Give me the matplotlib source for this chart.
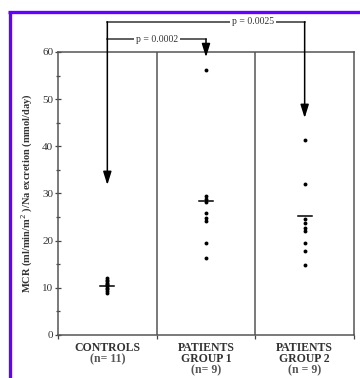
import numpy as np
import matplotlib
matplotlib.use("Agg")
import matplotlib.pyplot as plt
from matplotlib.lines import Line2D

# ==== Data ====
groups = ["CONTROLS\n(n= 11)", "PATIENTS\nGROUP 1\n(n= 9)", "PATIENTS\nGROUP 2\n(n = 9)"]
controls = [9.0, 9.4, 9.8, 10.0, 10.3, 10.5, 10.8, 11.1, 11.4, 11.7, 12.0]
group1 = [56.2, 29.5, 28.8, 28.2, 25.8, 24.9, 24.2, 19.4, 16.4]
group2 = [41.3, 32.0, 24.5, 23.8, 22.6, 22.1, 19.4, 17.7, 14.8]
means = [10.4, 28.5, 25.3]
p_labels = ["p = 0.0002", "p = 0.0025"]

plt.rcParams['font.family'] = ['Liberation Serif', 'DejaVu Serif']

fig = plt.figure(figsize=(3.6, 3.78), dpi=100)
ax = fig.add_axes([0.1611, 0.1138, 0.8222, 0.7487])

# ==== Points and means ====
for i, vals in enumerate([controls, group1, group2]):
    ax.plot([i] * len(vals), vals, 'o', color='k', markersize=2.8, markeredgewidth=0)
    ax.plot([i - 0.07, i + 0.07], [means[i], means[i]], color='k', lw=1.1)

# panel dividers
for xd in [0.5, 1.5]:
    ax.axvline(xd, color='#555555', lw=1.1)

ax.set_xlim(-0.5, 2.5)
ax.set_ylim(0, 60)
ax.set_yticks(np.arange(0, 61, 10))
ax.set_yticks(np.arange(5, 60, 10), minor=True)
ax.tick_params(axis='y', which='major', direction='inout', length=5, width=0.9,
               labelsize=8, colors='#444444', labelcolor='#333333', pad=1)
ax.tick_params(axis='y', which='minor', direction='inout', length=3, width=0.9, colors='#444444')
ax.set_xticks([0, 1, 2])
ax.set_xticklabels([])
ax.set_xticks([-0.5, 0.5, 1.5, 2.5], minor=True)
ax.tick_params(axis='x', which='major', length=0)
ax.tick_params(axis='x', which='minor', direction='out', length=3, width=0.9, colors='#444444')
for s in ax.spines.values():
    s.set_color('#555555')
    s.set_linewidth(1.1)

# group labels: names bold, counts lighter
for i, lab in enumerate(groups):
    lines = lab.split("\n")
    for k, ln in enumerate(lines):
        bold = not ln.startswith("(")
        ax.text(i, -1.4 - k * 2.45, ln, ha='center', va='top', fontsize=8.5,
                fontweight='bold', color='#333333' if bold else '#555555')

ax.set_ylabel("MCR (ml/min/m$^2$ )/Na excretion (mmol/day)", fontsize=7.5,
              fontweight='bold', color='#333333', labelpad=5)

# ==== Significance brackets ====
y_low, y_high = 62.75, 66.4
arrow = dict(arrowstyle='-|>,head_length=0.8,head_width=0.25', color='k', lw=1.1,
             shrinkA=0, shrinkB=0)
ax.plot([0, 2], [y_high, y_high], color='#333333', lw=1.1, clip_on=False)
ax.plot([0, 1], [y_low, y_low], color='#333333', lw=1.1, clip_on=False)
ax.annotate('', xy=(0, 31.8), xytext=(0, y_high), arrowprops=arrow, annotation_clip=False)
ax.annotate('', xy=(1, 58.9), xytext=(1, y_low), arrowprops=arrow, annotation_clip=False)
ax.annotate('', xy=(2, 46.0), xytext=(2, y_high), arrowprops=arrow, annotation_clip=False)
bbox = dict(facecolor='white', edgecolor='none', pad=1.5)
ax.text(0.5, y_low, p_labels[0], ha='center', va='center', fontsize=7, color='#333333', bbox=bbox)
ax.text(1.48, y_high, p_labels[1], ha='center', va='center', fontsize=7, color='#333333', bbox=bbox)

# ==== Blue frame (left and top only) ====
frame = '#6400ff'
fig.add_artist(Line2D([9.5 / 360, 9.5 / 360], [0, 1 - 12 / 378], color=frame, lw=2.4,
                      transform=fig.transFigure, solid_capstyle='butt'))
fig.add_artist(Line2D([8 / 360, 1], [1 - 12 / 378, 1 - 12 / 378], color=frame, lw=2.4,
                      transform=fig.transFigure, solid_capstyle='butt'))

fig.savefig("out.png", dpi=100)
